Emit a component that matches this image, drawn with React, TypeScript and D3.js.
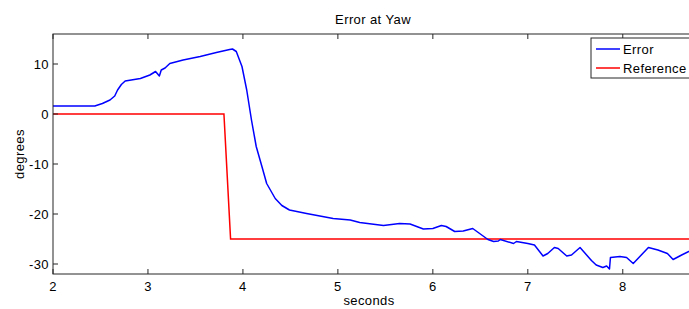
import React from "react";
import * as d3 from "d3";

const errT = [2.0, 2.44, 2.52, 2.6, 2.65, 2.68, 2.72, 2.76, 2.92, 3.02, 3.08, 3.12, 3.14, 3.18, 3.23, 3.37, 3.55, 3.72, 3.86, 3.89, 3.93, 3.99, 4.04, 4.09, 4.14, 4.2, 4.25, 4.34, 4.41, 4.49, 4.67, 4.95, 5.13, 5.23, 5.48, 5.65, 5.76, 5.9, 6.0, 6.09, 6.14, 6.23, 6.32, 6.42, 6.58, 6.64, 6.69, 6.71, 6.85, 6.88, 7.0, 7.07, 7.16, 7.21, 7.28, 7.32, 7.41, 7.46, 7.55, 7.67, 7.72, 7.79, 7.83, 7.86, 7.87, 7.97, 8.04, 8.11, 8.27, 8.37, 8.47, 8.53, 8.62, 8.75];
const errV = [1.6, 1.6, 2.1, 2.8, 3.6, 4.8, 5.9, 6.6, 7.1, 7.8, 8.5, 7.6, 8.8, 9.2, 10.1, 10.8, 11.5, 12.3, 12.9, 13.0, 12.5, 9.5, 4.8, -1.2, -6.5, -10.5, -13.9, -16.9, -18.3, -19.2, -19.9, -20.9, -21.2, -21.7, -22.3, -21.9, -22.0, -23.0, -22.9, -22.3, -22.5, -23.5, -23.4, -22.9, -25.1, -25.5, -25.4, -25.1, -25.9, -25.5, -25.9, -26.2, -28.4, -27.9, -26.7, -26.9, -28.4, -28.2, -26.7, -29.3, -30.2, -30.7, -30.4, -31.0, -28.7, -28.5, -28.7, -29.9, -26.7, -27.2, -27.9, -29.1, -28.2, -27.0];

const refT = [2.0, 3.8, 3.87, 8.75];
const refV = [0, 0, -25, -25];

const xTicks = [2, 3, 4, 5, 6, 7, 8];
const yTicks = [-30, -20, -10, 0, 10];

const W = 689;
const H = 309;
const left = 53;
const right = 694;
const top = 34;
const bottom = 274;

export default function App() {
  const x = d3.scaleLinear().domain([2, 8.75]).range([left, right]);
  const y = d3.scaleLinear().domain([-32, 16]).range([bottom, top]);
  const line = d3
    .line<[number, number]>()
    .x((d) => x(d[0]))
    .y((d) => y(d[1]));
  const errData = errT.map((t, i) => [t, errV[i]] as [number, number]);
  const refData = refT.map((t, i) => [t, refV[i]] as [number, number]);
  const font = "'Liberation Sans', Arial, sans-serif";
  const axisColor = "#262626";
  const fs = 13;
  const ls = 0.4;
  return (
    <svg
      width={W}
      height={H}
      style={{ position: "absolute", left: 0, top: 0, background: "#fff" }}
      fontFamily={font}
      letterSpacing={ls}
    >
      <rect x={0} y={0} width={W} height={H} fill="#fff" />
      <defs>
        <clipPath id="plotclip">
          <rect x={left} y={top} width={right - left} height={bottom - top} />
        </clipPath>
      </defs>
      <g clipPath="url(#plotclip)">
        <path d={line(refData) ?? ""} fill="none" stroke="#ff0000" strokeWidth={1.5} />
        <path d={line(errData) ?? ""} fill="none" stroke="#0000ff" strokeWidth={1.5} strokeLinejoin="round" />
      </g>
      <rect x={left} y={top} width={right - left} height={bottom - top} fill="none" stroke={axisColor} strokeWidth={1} />
      {xTicks.map((t) => (
        <g key={"x" + t}>
          <line x1={x(t)} x2={x(t)} y1={bottom} y2={bottom - 5} stroke={axisColor} />
          <line x1={x(t)} x2={x(t)} y1={top} y2={top + 5} stroke={axisColor} />
          <text x={x(t)} y={291} textAnchor="middle" fontSize={fs} fill="#000">
            {t}
          </text>
        </g>
      ))}
      {yTicks.map((v) => (
        <g key={"y" + v}>
          <line x1={left} x2={left + 5} y1={y(v)} y2={y(v)} stroke={axisColor} />
          <text x={49} y={y(v) + 5} textAnchor="end" fontSize={fs} fill="#000">
            {v}
          </text>
        </g>
      ))}
      <text x={373} y={24} textAnchor="middle" fontSize={fs} fill="#000">
        Error at Yaw
      </text>
      <text x={369} y={305} textAnchor="middle" fontSize={fs} fill="#000">
        seconds
      </text>
      <text
        transform={`translate(24,${(top + bottom) / 2}) rotate(-90)`}
        textAnchor="middle"
        fontSize={fs}
        fill="#000"
      >
        degrees
      </text>
      <g>
        <rect x={591} y={38} width={110} height={40} fill="#fff" stroke={axisColor} strokeWidth={1} />
        <line x1={596} x2={620} y1={49} y2={49} stroke="#0000ff" strokeWidth={1.5} />
        <text x={623} y={53.5} fontSize={fs} fill="#000">
          Error
        </text>
        <line x1={596} x2={620} y1={68} y2={68} stroke="#ff0000" strokeWidth={1.5} />
        <text x={623} y={72.5} fontSize={fs} fill="#000">
          Reference
        </text>
      </g>
    </svg>
  );
}
